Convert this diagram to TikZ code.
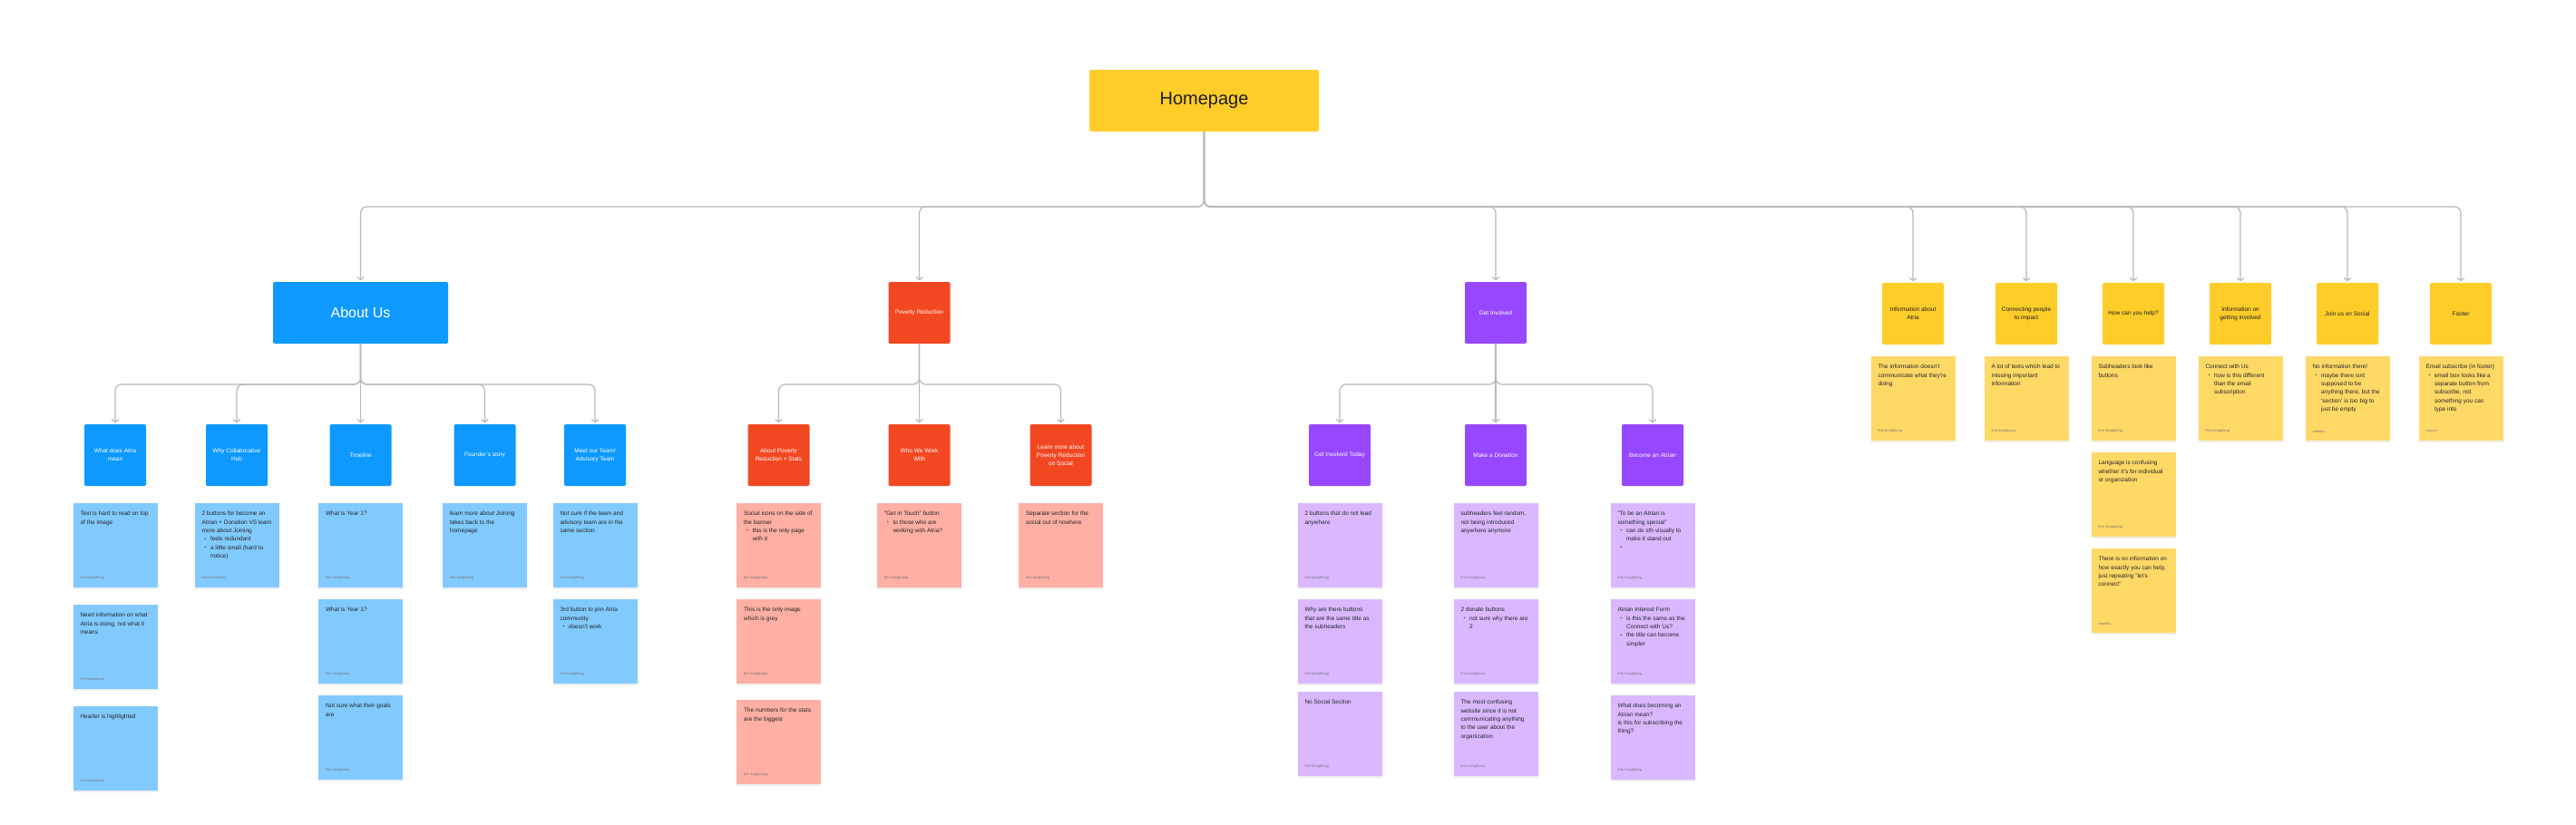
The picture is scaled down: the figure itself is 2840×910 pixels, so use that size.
\documentclass[tikz,border=0pt]{standalone}
\usepackage{fontspec}
\setmainfont{Liberation Sans}
\usetikzlibrary{arrows.meta,shadows}
\definecolor{hpyellow}{HTML}{FFCD29}
\definecolor{syel}{HTML}{FFD966}
\definecolor{figblue}{HTML}{0D99FF}
\definecolor{sblue}{HTML}{80CAFF}
\definecolor{figred}{HTML}{F24822}
\definecolor{sred}{HTML}{FFAFA3}
\definecolor{figpurp}{HTML}{9747FF}
\definecolor{spurp}{HTML}{D9B8FF}
\definecolor{linegrey}{HTML}{B8B8B8}
\definecolor{darktext}{HTML}{1E1E1E}
\definecolor{notetext}{HTML}{262626}
\definecolor{authgrey}{HTML}{777777}
\newcommand\bl[1]{\par\hangindent=9.5pt\hangafter=1\noindent\hbox to 9.5pt{\hspace{3pt}\raisebox{0.6pt}{\fontsize{5}{5}\selectfont\textbullet}\hfil}#1}
\newcommand\stk[6]{\node[note,fill=#4] (#1) at (#2,#3) {\parbox[t][75pt][t]{77pt}{\raggedright #5\par\vfill{\fontsize{4}{5}\selectfont\color{authgrey}#6}}};}
\tikzset{
  conn/.style={draw=linegrey, line width=1.2pt, rounded corners=7pt, -{Straight Barb[length=3pt,width=7.5pt]}, shorten >=1.5pt},
  hpbox/.style={fill=hpyellow, text=darktext, minimum width=253pt, minimum height=68pt, rounded corners=2pt, font=\fontsize{20}{24}\selectfont},
  secbox/.style={fill=figblue, text=white, minimum width=193pt, minimum height=68pt, rounded corners=2pt, font=\fontsize{16}{19}\selectfont},
  hdr/.style={minimum width=68pt, minimum height=68pt, inner sep=1pt, align=center, rounded corners=2pt, font=\fontsize{6.5}{9.3}\selectfont},
  hblue/.style={hdr, fill=figblue, text=white},
  hred/.style={hdr, fill=figred, text=white},
  hpurp/.style={hdr, fill=figpurp, text=white},
  hyel/.style={hdr, fill=hpyellow, text=darktext},
  note/.style={anchor=north, inner xsep=8pt, inner ysep=9pt, text=notetext, font=\fontsize{6.5}{9.3}\selectfont,
    drop shadow={shadow xshift=0pt, shadow yshift=-1.5pt, opacity=0.12}},
}
\begin{document}
\begin{tikzpicture}[x=1pt,y=-1pt]
\fill[white] (0,0) rectangle (2840,910);
\useasboundingbox (0,0) rectangle (2840,910);
\coordinate (b1) at (0,228);
\coordinate (b2) at (0,424);
% level 0 / 1
\node[hpbox] (hp) at (1327.5,111) {Homepage};
\node[secbox] (au) at (397.5,345) {About Us};
\node[hred] (pr) at (1013.5,345) {Poverty Reduction};
\node[hpurp] (gi) at (1649,345) {Get Involved};
\node[hyel] (ya) at (2109,346) {Information about\\Atria};
\node[hyel] (yb) at (2234,346) {Connecting people\\to impact};
\node[hyel] (yc) at (2352,346) {How can you help?};
\node[hyel] (yd) at (2470,346) {Information on\\getting involved};
\node[hyel] (ye) at (2588,346) {Join us on Social};
\node[hyel] (yf) at (2713,346) {Footer};
% level 2
\node[hblue] (a1) at (127,502) {What does Atria\\mean};
\node[hblue] (a2) at (261,502) {Why Collaborative\\Hub};
\node[hblue] (a3) at (397.5,502) {Timeline};
\node[hblue] (a4) at (534.5,502) {Founder’s story};
\node[hblue] (a5) at (656,502) {Meet our Team/\\Advisory Team};
\node[hred] (p1) at (858.5,502) {About Poverty\\Reduction + Stats};
\node[hred] (p2) at (1013.5,502) {Who We Work\\With};
\node[hred] (p3) at (1169.5,502) {Learn more about\\Poverty Reduction\\on Social};
\node[hpurp] (g1) at (1477,502) {Get Involved Today};
\node[hpurp] (g2) at (1649,502) {Make a Donation};
\node[hpurp] (g3) at (1822,502) {Become an Atrian};
% connectors
\foreach \c in {au,pr,gi,ya,yb,yc,yd,ye,yf}
  \draw[conn] (hp.south) -- (hp.south |- b1) -- (\c.north |- b1) -- (\c.north);
\foreach \c in {a1,a2,a4,a5}
  \draw[conn] (au.south) -- (au.south |- b2) -- (\c.north |- b2) -- (\c.north);
\draw[conn] (au.south) -- (a3.north);
\foreach \c in {p1,p3}
  \draw[conn] (pr.south) -- (pr.south |- b2) -- (\c.north |- b2) -- (\c.north);
\draw[conn] (pr.south) -- (p2.north);
\foreach \c in {g1,g3}
  \draw[conn] (gi.south) -- (gi.south |- b2) -- (\c.north |- b2) -- (\c.north);
\draw[conn] (gi.south) -- (g2.north);
% blue notes
\stk{n11}{127}{555}{sblue}{Text is hard to read on top\newline of the image}{firm kongthong}
\stk{n12}{127}{667}{sblue}{Need information on what\newline Atria is doing, not what it\newline means}{firm kongthong}
\stk{n13}{127}{779}{sblue}{Header is highlighted}{firm kongthong}
\stk{n21}{261}{555}{sblue}{2 buttons for become an\newline Atrian + Donation VS learn\newline more about Joining\bl{feels redundant}\bl{a little small (hard to\newline notice)}}{firm kongthong}
\stk{n31}{397.5}{555}{sblue}{What is Year 1?}{firm kongthong}
\stk{n32}{397.5}{661}{sblue}{What is Year 1?}{firm kongthong}
\stk{n33}{397.5}{767}{sblue}{Not sure what their goals\newline are}{firm kongthong}
\stk{n41}{534.5}{555}{sblue}{learn more about Joining\newline takes back to the\newline homepage}{firm kongthong}
\stk{n51}{656}{555}{sblue}{Not sure if the team and\newline advisory team are in the\newline same section}{firm kongthong}
\stk{n52}{656}{661}{sblue}{3rd button to join Atria\newline community\bl{doesn’t work}}{firm kongthong}
% red notes
\stk{r11}{858.5}{555}{sred}{Social icons on the side of\newline the banner\bl{this is the only page\newline with it}}{firm kongthong}
\stk{r12}{858.5}{661}{sred}{This is the only image\newline which is grey}{firm kongthong}
\stk{r13}{858.5}{772}{sred}{The numbers for the stats\newline are the biggest}{firm kongthong}
\stk{r21}{1013.5}{555}{sred}{“Get in Touch” button\bl{to those who are\newline working with Atria?}}{firm kongthong}
\stk{r31}{1169.5}{555}{sred}{Separate section for the\newline social out of nowhere}{firm kongthong}
% purple notes
\stk{g11}{1477}{555}{spurp}{2 buttons that do not lead\newline anywhere}{firm kongthong}
\stk{g12}{1477}{661}{spurp}{Why are there buttons\newline that are the same title as\newline the subheaders}{firm kongthong}
\stk{g13}{1477}{763}{spurp}{No Social Section}{firm kongthong}
\stk{g21}{1649}{555}{spurp}{subheaders feel random,\newline not being introduced\newline anywhere anymore}{firm kongthong}
\stk{g22}{1649}{661}{spurp}{2 donate buttons\bl{not sure why there are\newline 2}}{firm kongthong}
\stk{g23}{1649}{763}{spurp}{The most confusing\newline website since it is not\newline communicating anything\newline to the user about the\newline organization}{firm kongthong}
\stk{g31}{1822}{555}{spurp}{“To be an Atrian is\newline something special”\bl{can do sth visually to\newline make it stand out}\bl{}}{firm kongthong}
\stk{g32}{1822}{661}{spurp}{Atrian Interest Form\bl{is this the same as the\newline Connect with Us?}\bl{the title can become\newline simpler}}{firm kongthong}
\stk{g33}{1822}{767}{spurp}{What does becoming an\newline Atrian mean?\newline is this for subscribing the\newline thing?}{firm kongthong}
% yellow notes
\stk{y1}{2109}{393}{syel}{The information doesn’t\newline communicate what they’re\newline doing}{firm kongthong}
\stk{y2}{2234}{393}{syel}{A lot of texts which lead to\newline missing important\newline information}{firm kongthong}
\stk{y31}{2352}{393}{syel}{Subheaders look like\newline buttons}{firm kongthong}
\stk{y32}{2352}{499}{syel}{Language is confusing\newline whether it’s for individual\newline or organization}{firm kongthong}
\stk{y33}{2352}{605}{syel}{There is no information on\newline how exactly you can help,\newline just repeating “let’s\newline connect”}{aneeba}
\stk{y4}{2470}{393}{syel}{Connect with Us\bl{how is this different\newline than the email\newline subscription}}{firm kongthong}
\stk{y5}{2588}{393}{syel}{No information there!\bl{maybe there isnt\newline supposed to be\newline anything there, but the\newline ‘section’ is too big to\newline just be empty}}{aneeba}
\stk{y6}{2713}{393}{syel}{Email subscribe (in footer)\bl{email box looks like a\newline separate button from\newline subscribe, not\newline something you can\newline type into}}{Lauryn}
\end{tikzpicture}
\end{document}
